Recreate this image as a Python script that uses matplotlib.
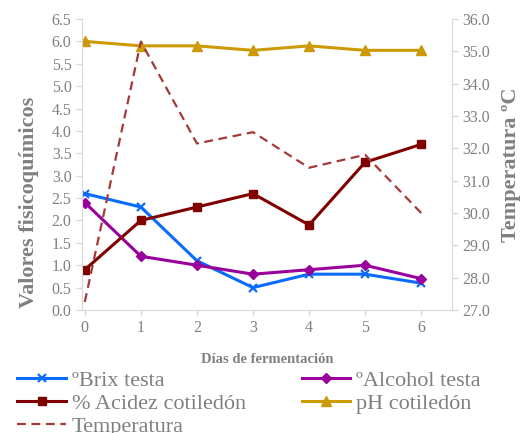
import numpy as np
import matplotlib
matplotlib.use("Agg")
import matplotlib.pyplot as plt

plt.rcParams['font.family'] = ['Liberation Serif', 'DejaVu Serif']

# Datos
dias = [0, 1, 2, 3, 4, 5, 6]
brix = [2.6, 2.3, 1.1, 0.5, 0.8, 0.8, 0.6]
alcohol = [2.4, 1.2, 1.0, 0.8, 0.9, 1.0, 0.7]
acidez = [0.9, 2.0, 2.3, 2.6, 1.9, 3.3, 3.7]
ph = [6.0, 5.9, 5.9, 5.8, 5.9, 5.8, 5.8]
temperatura = [27.25, 35.3, 32.15, 32.5, 31.4, 31.8, 30.0]

gris = '#808080'
eje = '#d9d9d9'

fig = plt.figure(figsize=(5.22, 4.33), dpi=100)
ax = fig.add_axes([82/522, 1 - 310/433, (452-82)/522, (310-19)/433])
ax2 = ax.twinx()

l1, = ax.plot(dias, brix, color='#0a6cff', lw=2.2, marker='x', ms=6, mew=1.6, label='ºBrix testa')
l2, = ax.plot(dias, alcohol, color='#99009c', lw=2.2, marker='D', ms=5, label='ºAlcohol testa')
l3, = ax.plot(dias, acidez, color='#800000', lw=2.2, marker='s', ms=6, label='% Acidez cotiledón')
l4, = ax.plot(dias, ph, color='#cc9a06', lw=2.2, marker='^', ms=7, label='pH cotiledón')
l5, = ax2.plot(dias, temperatura, color='#a33a3a', lw=1.6, ls=(0, (4, 2.5)), label='Temperatura')

ax.set_xlim(-0.05, 6.55)
ax.set_ylim(0, 6.5)
ax.set_yticks(np.arange(0, 6.51, 0.5))
ax.set_yticklabels([f'{v:.1f}' for v in np.arange(0, 6.51, 0.5)])
ax2.set_ylim(27, 36)
ax2.set_yticks(np.arange(27, 36.1, 1))
ax2.set_yticklabels([f'{v:.1f}' for v in np.arange(27, 36.1, 1)])
ax.set_xticks(dias)

for a in (ax, ax2):
    for s in a.spines.values():
        s.set_color(eje)
    a.spines['top'].set_visible(False)
    a.tick_params(colors=gris, labelsize=11.5, length=4, width=1)
    a.tick_params(color=eje)
ax.spines['right'].set_visible(False)
ax2.spines['left'].set_visible(False)
ax2.spines['bottom'].set_visible(False)

ax.set_ylabel('Valores fisicoquímicos', fontsize=16, fontweight='bold', color=gris)
ax.yaxis.set_label_coords(-0.115, 0.37)
ax2.set_ylabel('Temperatura ºC', fontsize=16, fontweight='bold', color=gris, labelpad=8)
ax.set_xlabel('Días de fermentación', fontsize=10.5, fontweight='bold', color=gris, labelpad=12)

# orden por filas como en Excel
fig.legend(handles=[l1, l3, l5, l2, l4], loc='upper left', bbox_to_anchor=(0.012, 0.17),
           ncol=2, frameon=False, fontsize=16, labelcolor=gris, handlelength=2.2,
           handletextpad=0.25, columnspacing=2.5, labelspacing=0.1, borderpad=0)

fig.savefig('out.png', dpi=100)
